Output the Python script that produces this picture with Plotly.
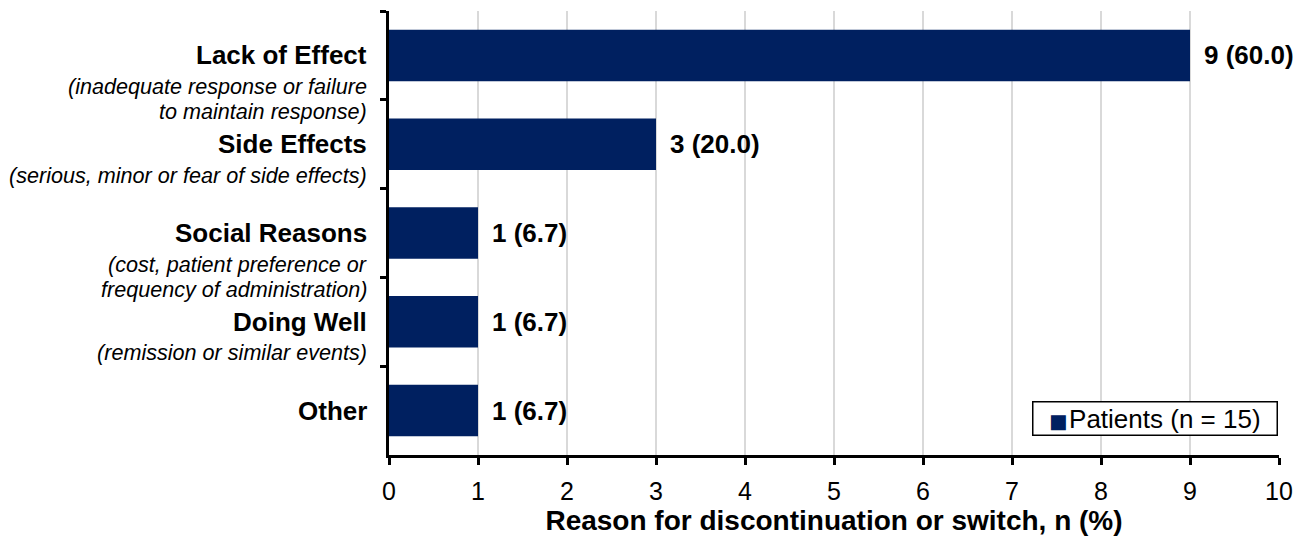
import plotly.graph_objects as go

categories = ["Lack of Effect", "Side Effects", "Social Reasons", "Doing Well", "Other"]
subtitles = [
    ["(inadequate response or failure", "to maintain response)"],
    ["(serious, minor or fear of side effects)"],
    ["(cost, patient preference or", "frequency of administration)"],
    ["(remission or similar events)"],
    [],
]
counts = [9, 3, 1, 1, 1]
percents = ["60.0", "20.0", "6.7", "6.7", "6.7"]
series_name = "Patients (n = 15)"
x_title = "Reason for discontinuation or switch, n (%)"
x_ticks = [0, 1, 2, 3, 4, 5, 6, 7, 8, 9, 10]

NAVY = "#002060"
FONT = "Liberation Sans, Arial, sans-serif"

fig = go.Figure()
fig.add_trace(go.Bar(
    y=categories, x=counts, orientation="h", name=series_name,
    marker=dict(color=NAVY, line=dict(width=0)), width=0.58,
    hoverinfo="skip", showlegend=False,
))

annotations = []
for cat, subs, n, p in zip(categories, subtitles, counts, percents):
    annotations.append(dict(
        x=n, y=cat, xref="x", yref="y", xanchor="left", yanchor="middle",
        xshift=12, text=f"<b>{n} ({p})</b>", showarrow=False,
        font=dict(family=FONT, size=26, color="black"),
    ))
    annotations.append(dict(
        x=0, y=cat, xref="paper", yref="y", xanchor="right", yanchor="middle",
        xshift=-20, text=f"<b>{cat}</b>", showarrow=False,
        font=dict(family=FONT, size=26, color="black"),
    ))
    for i, line in enumerate(subs):
        annotations.append(dict(
            x=0, y=cat, xref="paper", yref="y", xanchor="right", yanchor="middle",
            xshift=-20, yshift=-31 - 25 * i, text=f"<i>{line}</i>", showarrow=False,
            font=dict(family=FONT, size=21.6, color="black"),
        ))

# legend box (drawn as a bordered annotation to match the compact reference legend)
annotations.append(dict(
    x=0.999, y=0.0428, xref="paper", yref="paper", xanchor="right", yanchor="bottom",
    text=(f"&nbsp;&nbsp;<span style='color:{NAVY}; font-size:19.5px; font-family:DejaVu Sans'>■</span>"
          f"<span style='font-size:6px'>&nbsp;</span>{series_name}&nbsp;&nbsp;"),
    showarrow=False, bordercolor="black", borderwidth=1.5, borderpad=1, bgcolor="white",
    font=dict(family=FONT, size=26, color="black"),
))

fig.update_layout(
    width=1299, height=532,
    margin=dict(l=381, r=28, t=3, b=85),
    paper_bgcolor="white", plot_bgcolor="white",
    font=dict(family=FONT, size=25, color="black"),
    showlegend=False,
    annotations=annotations,
)
fig.update_xaxes(
    range=[0, 10], tickvals=x_ticks, ticktext=[str(t) for t in x_ticks],
    showgrid=True, gridcolor="#d9d9d9", gridwidth=1.5,
    showline=True, linecolor="black", linewidth=2.5,
    ticks="outside", ticklen=7, tickwidth=2.5, tickcolor="black",
    tickfont=dict(family=FONT, size=25, color="black"),
    ticklabelstandoff=5,
    title=dict(text=f"<b>{x_title}</b>", font=dict(family=FONT, size=28, color="black"), standoff=7),
    zeroline=False,
)
fig.update_yaxes(
    range=[4.5, -0.5], showticklabels=False,
    showline=True, linecolor="black", linewidth=2.5,
    ticks="outside", ticklen=6, tickwidth=2.5, tickcolor="black",
    tickson="boundaries", showgrid=False,
)

fig.write_html("out.html")
